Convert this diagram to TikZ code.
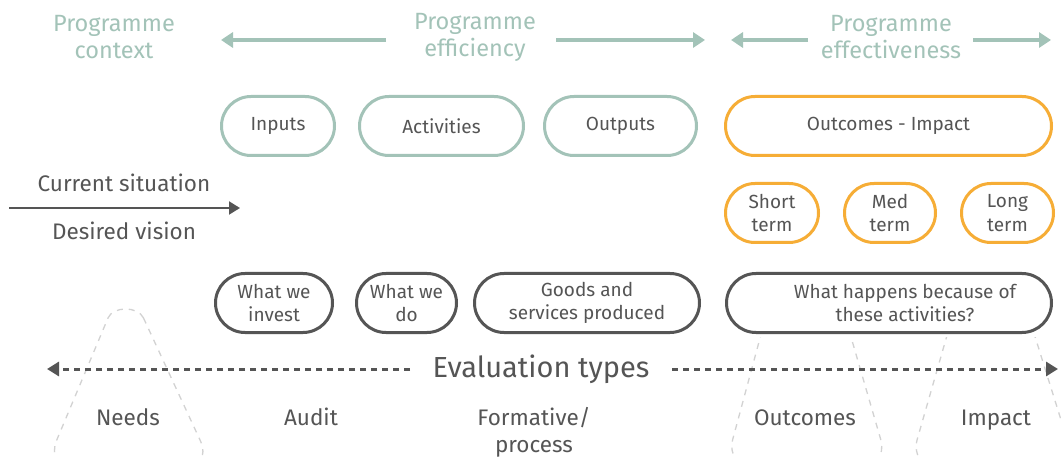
\documentclass[tikz,border=0pt]{standalone}
\usepackage{fontspec}
\setmainfont{Fira Sans}
\usetikzlibrary{arrows.meta}
\definecolor{sage}{HTML}{A3C3B8}
\definecolor{orng}{HTML}{F6AD36}
\definecolor{dgray}{HTML}{555555}
\definecolor{lgray}{HTML}{D2D2D2}
\begin{document}
\begin{tikzpicture}[x=1pt,y=-1pt,
  hdr/.style={text=sage, font=\fontsize{23.5}{27}\selectfont, align=center, inner sep=0pt},
  hdrarrow/.style={draw=sage, line width=4pt, -{Triangle[length=12pt,width=15pt]}},
  pill/.style={draw, line width=3pt, rounded corners=29.5pt, minimum height=59pt, fill=white, text=dgray, font=\fontsize{19}{23.5}\selectfont, align=center, inner sep=0pt},
  sagepill/.style={pill, draw=sage},
  orpill/.style={pill, draw=orng},
  graypill/.style={pill, draw=dgray},
  lbl/.style={text=dgray, font=\fontsize{22.5}{27}\selectfont, align=center, inner sep=0pt},
  evarrow/.style={draw=dgray, line width=3pt, dash pattern=on 6pt off 5pt, -{Triangle[length=12pt,width=14pt]}},
  tri/.style={draw=lgray, line width=1.3pt, dash pattern=on 6pt off 6pt, rounded corners=30pt}
]
\useasboundingbox[fill=white] (0,0) rectangle (1061,457);

% dashed evaluation shapes
\coordinate (nl) at (108,318); \coordinate (nr) at (143.5,318);
\draw[tri] (nr) -- (213,468) -- (45,468) -- (nl);
\draw[tri] (nl) .. controls (113,306) and (138,306) .. (nr);
\begin{scope}
\clip (0,337) rectangle (1061,457);
\draw[tri] (804,175) -- (889,468) -- (725,468) -- cycle;
\draw[tri] (989,189) -- (1076,468) -- (909,468) -- cycle;
\end{scope}

% header
\node[hdr] (ctx) at (114,37) {Programme\\context};
\node[hdr] (eff) at (475,37) {Programme\\efficiency};
\node[hdr] (efv) at (891,37) {Programme\\effectiveness};
\coordinate (a1s) at (386,40); \coordinate (a1e) at (221,40);
\coordinate (a2s) at (556,40); \coordinate (a2e) at (705,40);
\coordinate (a3s) at (808,40); \coordinate (a3e) at (731,40);
\coordinate (a4s) at (973,40); \coordinate (a4e) at (1051,40);
\draw[hdrarrow] (a1s) -- (a1e);
\draw[hdrarrow] (a2s) -- (a2e);
\draw[hdrarrow] (a3s) -- (a3e);
\draw[hdrarrow] (a4s) -- (a4e);

% row 1
\node[sagepill, minimum width=113pt] (inp) at (278,126) {Inputs};
\node[sagepill, minimum width=164pt] (act) at (441.5,126) {Activities};
\node[sagepill, minimum width=152pt] (out) at (620.5,126) {Outputs};
\node[orpill, minimum width=326pt] (oi) at (888.5,126) {Outcomes - Impact};

% row 2
\node[orpill, minimum width=93pt] (st) at (772,213) {Short\\term};
\node[orpill, minimum width=91pt] (mt) at (890,213) {Med\\term};
\node[orpill, minimum width=92pt] (lt) at (1007.5,213) {Long\\term};

% current situation
\node[lbl, anchor=base] (cur) at (124,192) {Current situation};
\node[lbl, anchor=base] (des) at (124,240) {Desired vision};
\coordinate (cs) at (9,208); \coordinate (ce) at (240,208);
\draw[draw=dgray, line width=2pt, -{Triangle[length=11pt,width=13pt]}] (cs) -- (ce);

% row 3
\node[graypill, minimum width=117pt] (inv) at (274,303) {What we\\invest};
\node[graypill, minimum width=100pt] (do) at (406.5,303) {What we\\do};
\node[graypill, minimum width=225pt] (gs) at (587,303) {Goods and\\services produced};
\node[graypill, minimum width=325pt] (wh) at (889,303) {};
\node[lbl, font=\fontsize{19}{23.5}\selectfont] (wht) at ([xshift=16pt]wh.center) {What happens because of\\these activities?};

% evaluation types
\node[text=dgray, font=\fontsize{29}{32}\selectfont, inner sep=0pt] (ev) at (541,369) {Evaluation types};
\coordinate (el) at (47,369); \coordinate (er) at (1058,369);
\draw[evarrow] (410,369) -- (el);
\draw[evarrow] (672,369) -- (er);

% bottom labels
\node[lbl, anchor=base] (nd) at (128,425) {Needs};
\node[lbl, anchor=base] (au) at (311,425) {Audit};
\node[lbl, anchor=base] (fp) at (534,425) {Formative/};
\node[lbl, anchor=base] (fp2) at (534,452) {process};
\node[lbl, anchor=base] (oc) at (805,425) {Outcomes};
\node[lbl, anchor=base] (im) at (996,425) {Impact};
\end{tikzpicture}
\end{document}
